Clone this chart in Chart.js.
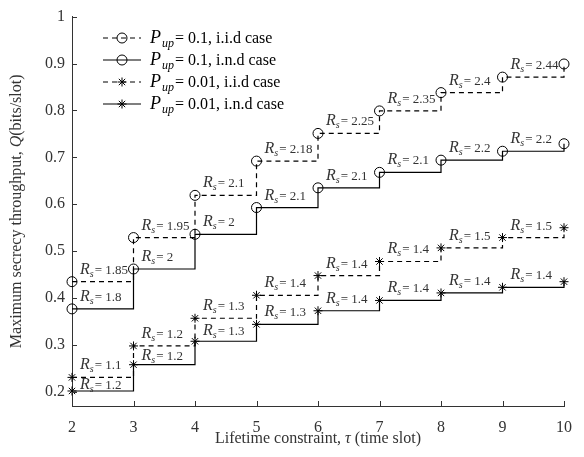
<!DOCTYPE html>
<html>
<head>
<meta charset="utf-8">
<script src="https://cdn.jsdelivr.net/npm/chart.js@4/dist/chart.umd.min.js"></script>
<style>
  html, body { margin:0; background:#fff; }
  #wrap { width:584px; height:457px; }
</style>
</head>
<body>
<div id="wrap"><canvas id="c"></canvas></div>
<script>
// lifetime constraint tau (time slot)
const tau = [2, 3, 4, 5, 6, 7, 8, 9, 10];

// max secrecy throughput Q (bits/slot)
const q01iid  = [0.435, 0.529, 0.619, 0.692, 0.751, 0.799, 0.838, 0.871, 0.899];
const q01ind  = [0.377, 0.462, 0.536, 0.593, 0.635, 0.668, 0.694, 0.713, 0.729];
const q001iid = [0.231, 0.298, 0.357, 0.406, 0.448, 0.478, 0.507, 0.529, 0.550];
const q001ind = [0.202, 0.258, 0.308, 0.344, 0.373, 0.395, 0.411, 0.423, 0.435];

// R_s labels on each step
const rs01iid  = ["1.85", "1.95", "2.1", "2.18", "2.25", "2.35", "2.4", "2.44"];
const rs01ind  = ["1.8", "2", "2", "2.1", "2.1", "2.1", "2.2", "2.2"];
const rs001iid = ["1.1", "1.2", "1.3", "1.4", "1.4", "1.4", "1.5", "1.5"];
const rs001ind = ["1.2", "1.2", "1.3", "1.3", "1.4", "1.4", "1.4", "1.4"];

const pUp   = ["0.1", "0.1", "0.01", "0.01"];
const cases = ["i.i.d case", "i.n.d case", "i.i.d case", "i.n.d case"];

const SERIF = "'Liberation Serif', 'Times New Roman', serif";
const INK = "#000";
const GREY = "#333";

const series = [
  { vals: q01iid,  rs: rs01iid,  dash: [5, 4], style: "circle", r: 5 },
  { vals: q01ind,  rs: rs01ind,  dash: [],     style: "circle", r: 5 },
  { vals: q001iid, rs: rs001iid, dash: [5, 4], style: "star",   r: 4.5 },
  { vals: q001ind, rs: rs001ind, dash: [],     style: "star",   r: 4.5 },
];

// draw text made of pieces with their own fonts (italic, subscripts)
function rich(ctx, parts, x, y, align) {
  let w = 0;
  parts.forEach(p => { ctx.font = p.f; w += ctx.measureText(p.t).width + (p.gap || 0); });
  let cx = align === "center" ? x - w / 2 : x;
  parts.forEach(p => {
    ctx.font = p.f;
    ctx.fillText(p.t, cx, y + (p.dy || 0));
    cx += ctx.measureText(p.t).width + (p.gap || 0);
  });
}

function marker(ctx, style, x, y, r) {
  ctx.beginPath();
  if (style === "circle") {
    ctx.arc(x, y, r, 0, Math.PI * 2);
  } else {
    for (let k = 0; k < 4; k++) {
      const a = k * Math.PI / 4;
      ctx.moveTo(x - r * Math.cos(a), y - r * Math.sin(a));
      ctx.lineTo(x + r * Math.cos(a), y + r * Math.sin(a));
    }
  }
  ctx.stroke();
}

const decor = {
  id: "decor",
  afterDraw(chart) {
    const { ctx, scales: { x, y }, chartArea: a } = chart;
    ctx.save();

    // inward ticks, matlab style
    ctx.strokeStyle = GREY;
    ctx.lineWidth = 1;
    ctx.beginPath();
    x.ticks.forEach(t => {
      const px = Math.round(x.getPixelForValue(t.value)) + 0.5;
      ctx.moveTo(px, a.bottom); ctx.lineTo(px, a.bottom - 5);
    });
    y.ticks.forEach(t => {
      const py = Math.round(y.getPixelForValue(t.value)) + 0.5;
      ctx.moveTo(a.left, py); ctx.lineTo(a.left + 5, py);
    });
    ctx.stroke();

    // R_s labels
    ctx.fillStyle = GREY;
    ctx.textAlign = "left";
    ctx.textBaseline = "alphabetic";
    series.forEach((s, si) => {
      s.rs.forEach((lab, i) => {
        const px = x.getPixelForValue(tau[i]) + 8;
        const py = y.getPixelForValue(s.vals[i]);
        let off = 13;
        if (si % 2 === 1) {
          const above = y.getPixelForValue(series[si - 1].vals[i]);
          off = Math.min(13, (py - above) / 2);
        }
        rich(ctx, [
          { t: "R", f: "italic 16px " + SERIF },
          { t: "s", f: "italic 10px " + SERIF, dy: 3, gap: 1 },
          { t: "= " + lab, f: "13px " + SERIF },
        ], px, py - off + 5);
      });
    });

    // legend
    series.forEach((s, i) => {
      const ly = 38 + i * 22;
      ctx.strokeStyle = INK;
      ctx.lineWidth = 1.2;
      ctx.setLineDash(s.dash);
      ctx.beginPath(); ctx.moveTo(103, ly); ctx.lineTo(141, ly); ctx.stroke();
      ctx.setLineDash([]);
      ctx.lineWidth = 1;
      marker(ctx, s.style, 122, ly, s.r);
      ctx.fillStyle = INK;
      rich(ctx, [
        { t: "P", f: "italic 18px " + SERIF, gap: 1 },
        { t: "up", f: "italic 12px " + SERIF, dy: 4, gap: 1 },
        { t: "= " + pUp[i] + ", " + cases[i], f: "16px " + SERIF },
      ], 150, ly + 5);
    });

    // axis titles
    ctx.fillStyle = GREY;
    rich(ctx, [
      { t: "Lifetime constraint, ", f: "16px " + SERIF },
      { t: "\u03c4", f: "italic 16px " + SERIF },
      { t: " (time slot)", f: "16px " + SERIF },
    ], (a.left + a.right) / 2, 443, "center");

    ctx.translate(21, (a.top + a.bottom) / 2);
    ctx.rotate(-Math.PI / 2);
    rich(ctx, [
      { t: "Maximum secrecy throughput, ", f: "16px " + SERIF },
      { t: "Q", f: "italic 16px " + SERIF },
      { t: "(bits/slot)", f: "16px " + SERIF },
    ], 0, 0, "center");

    ctx.restore();
  }
};

new Chart(document.getElementById("c"), {
  type: "line",
  data: {
    datasets: series.map(s => ({
      data: tau.map((t, i) => ({ x: t, y: s.vals[i] })),
      stepped: "before",
      borderColor: INK,
      borderWidth: 1.2,
      borderDash: s.dash,
      pointStyle: s.style,
      pointRadius: s.r,
      pointBorderColor: INK,
      pointBorderWidth: 1,
      pointBackgroundColor: "rgba(0,0,0,0)",
      fill: false,
      clip: false,
    }))
  },
  options: {
    responsive: true,
    maintainAspectRatio: false,
    animation: false,
    layout: { padding: { top: 9, right: 8, left: 0, bottom: 0 } },
    plugins: { legend: { display: false }, tooltip: { enabled: false } },
    scales: {
      x: {
        type: "linear", min: 2, max: 10,
        ticks: { stepSize: 1, color: GREY, font: { family: SERIF, size: 16 }, padding: 12, maxRotation: 0 },
        grid: { display: true, drawOnChartArea: false, drawTicks: false },
        border: { display: true, color: GREY, width: 1 },
        afterFit: sc => { sc.height = 51; }
      },
      y: {
        min: 0.17, max: 1,
        ticks: {
          stepSize: 0.1, includeBounds: false, color: GREY, padding: 7,
          font: { family: SERIF, size: 16 },
          callback: v => String(Number(v.toFixed(1)))
        },
        grid: { display: true, drawOnChartArea: false, drawTicks: false },
        border: { display: true, color: GREY, width: 1 },
        afterFit: sc => { sc.width = 72; }
      }
    }
  },
  plugins: [decor]
});
</script>
</body>
</html>
